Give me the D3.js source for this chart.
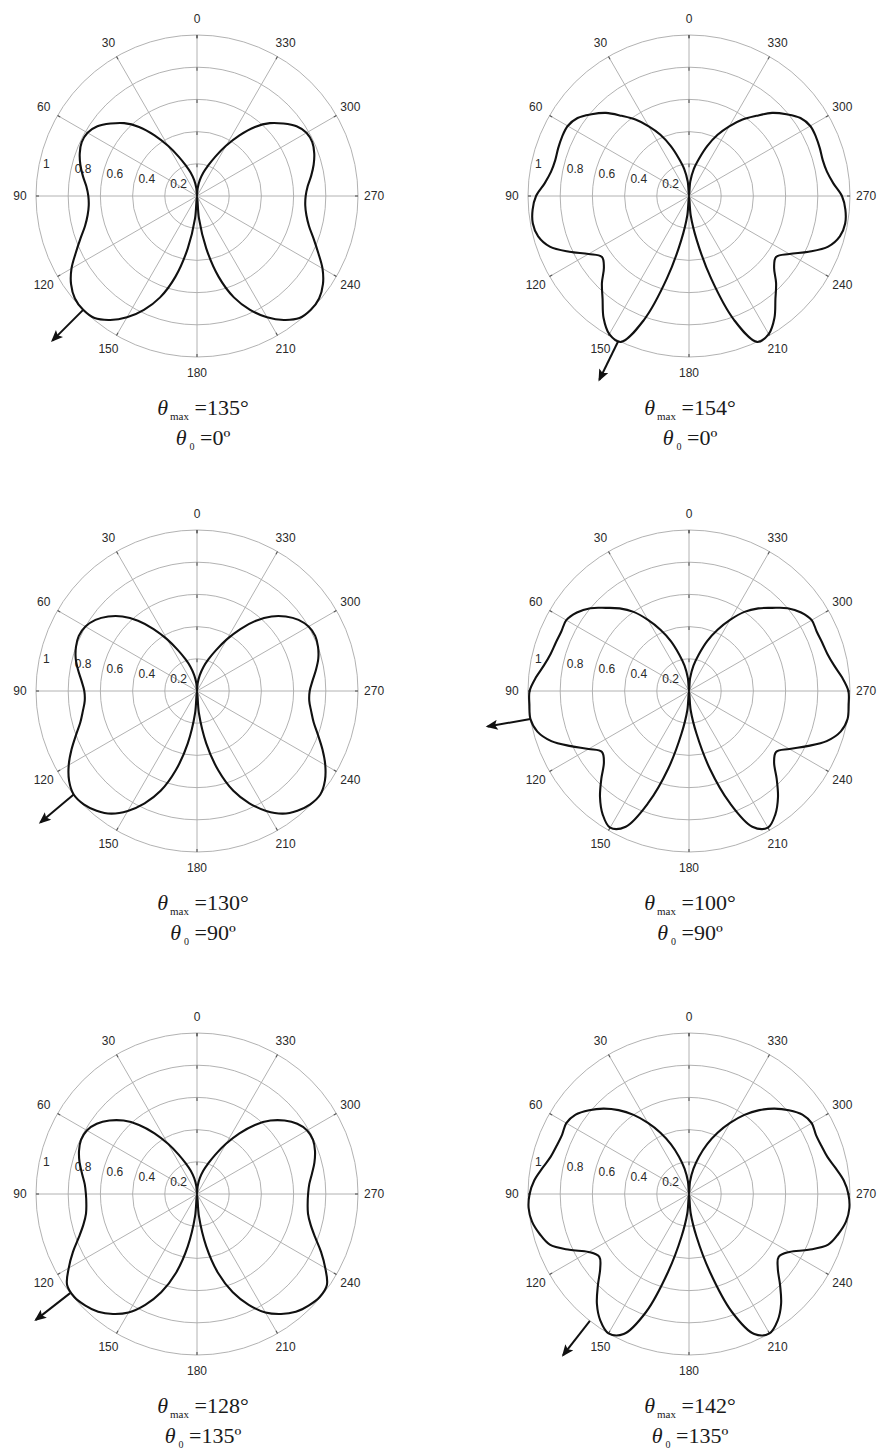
<!DOCTYPE html>
<html>
<head>
<meta charset="utf-8">
<script src="https://cdn.jsdelivr.net/npm/d3@7"></script>
<style>
  html, body { margin: 0; padding: 0; background: #fff; }
  svg { display: block; }
</style>
</head>
<body>
<svg id="chart" width="877" height="1454"></svg>
<script>
// Sample angles (degrees, counter-clockwise from the top) for one half of each pattern;
// the other half is the mirror image about the 0–180 axis.
const angles = [0, 5, 10, 15, 20, 25, 30, 35, 40, 45, 50, 55, 60, 65, 70, 75, 80, 85, 90,
                95, 100, 105, 110, 115, 120, 125, 130, 135, 140, 145, 150, 155, 160, 165, 170, 175, 180];

// Normalised radiation patterns (one value per sample angle)
const patternA = [0.00, 0.05, 0.10, 0.15, 0.20, 0.27, 0.36, 0.46, 0.56, 0.64, 0.70, 0.755, 0.785, 0.79, 0.775, 0.75, 0.72, 0.69, 0.675,
                  0.675, 0.69, 0.72, 0.77, 0.83, 0.90, 0.955, 0.99, 1.00, 0.99, 0.94, 0.87, 0.78, 0.67, 0.52, 0.33, 0.14, 0.00];
const patternB = [0.00, 0.09, 0.17, 0.24, 0.33, 0.42, 0.50, 0.58, 0.65, 0.73, 0.79, 0.845, 0.87, 0.87, 0.865, 0.86, 0.87, 0.90, 0.95,
                  0.975, 0.985, 0.97, 0.92, 0.82, 0.72, 0.66, 0.69, 0.765, 0.835, 0.925, 0.99, 1.00, 0.82, 0.53, 0.28, 0.12, 0.00];
const patternC = [0.00, 0.05, 0.10, 0.155, 0.21, 0.28, 0.37, 0.47, 0.57, 0.655, 0.72, 0.77, 0.80, 0.81, 0.80, 0.78, 0.75, 0.72, 0.70,
                  0.70, 0.72, 0.75, 0.80, 0.86, 0.92, 0.97, 1.00, 0.995, 0.97, 0.93, 0.86, 0.77, 0.66, 0.51, 0.33, 0.14, 0.00];
const patternD = [0.00, 0.08, 0.16, 0.235, 0.33, 0.42, 0.51, 0.60, 0.67, 0.73, 0.80, 0.85, 0.88, 0.875, 0.88, 0.89, 0.915, 0.955, 0.99,
                  0.995, 1.00, 0.975, 0.91, 0.81, 0.72, 0.66, 0.69, 0.77, 0.86, 0.935, 0.98, 0.93, 0.74, 0.50, 0.27, 0.12, 0.00];
const patternE = [0.00, 0.05, 0.10, 0.15, 0.20, 0.27, 0.36, 0.46, 0.56, 0.645, 0.71, 0.76, 0.79, 0.795, 0.78, 0.755, 0.725, 0.70, 0.69,
                  0.69, 0.70, 0.73, 0.78, 0.85, 0.92, 0.985, 0.995, 0.98, 0.955, 0.91, 0.85, 0.76, 0.65, 0.51, 0.33, 0.14, 0.00];
const patternF = [0.00, 0.08, 0.16, 0.24, 0.33, 0.42, 0.51, 0.60, 0.68, 0.75, 0.81, 0.86, 0.88, 0.87, 0.875, 0.89, 0.925, 0.965, 0.99,
                  1.00, 0.99, 0.96, 0.92, 0.82, 0.72, 0.68, 0.72, 0.80, 0.89, 0.96, 1.00, 0.96, 0.78, 0.50, 0.27, 0.12, 0.00];

const patterns = [patternA, patternB, patternC, patternD, patternE, patternF];
const thetaMax = [135, 154, 130, 100, 128, 142];
const theta0 = [0, 0, 90, 90, 135, 135];

const radialTicks = [0.2, 0.4, 0.6, 0.8, 1];
const radialTickLabels = ["0.2", "0.4", "0.6", "0.8", "1"];
const angleTicks = [0, 30, 60, 90, 120, 150, 180, 210, 240, 270, 300, 330];
const spokeAngles = [0, 30, 60, 90, 120, 150];

// Layout
const colX = [197, 689];
const rowY = [196, 691, 1194];
const captionX = [203, 690];
const R = 161;

const svg = d3.select("#chart");
svg.append("rect").attr("width", 877).attr("height", 1454).attr("fill", "#fff");

svg.append("defs").append("marker")
  .attr("id", "arrowhead")
  .attr("viewBox", "0 0 12 10")
  .attr("refX", 10).attr("refY", 5)
  .attr("markerWidth", 13).attr("markerHeight", 10)
  .attr("markerUnits", "userSpaceOnUse")
  .attr("orient", "auto")
  .append("path")
  .attr("d", "M0,0 L12,5 L0,10 L2.5,5 Z")
  .attr("fill", "#111");

const rScale = d3.scaleLinear().domain([0, 1]).range([0, R]);
const rad = deg => deg * Math.PI / 180;
// point for an angle measured counter-clockwise from the top
const polar = (deg, r) => [-r * Math.sin(rad(deg)), -r * Math.cos(rad(deg))];

const gridColor = "#a9a9a9";
const tickColor = "#555";
const textColor = "#2a2a2a";
const sansFont = "'Liberation Sans', Arial, sans-serif";
const serifFont = "'Liberation Serif', 'Times New Roman', serif";

patterns.forEach((values, i) => {
  const cx = colX[i % 2];
  const cy = rowY[Math.floor(i / 2)];
  const g = svg.append("g").attr("transform", `translate(${cx},${cy})`);

  // rings
  g.selectAll("circle.ring").data(radialTicks).join("circle")
    .attr("class", "ring")
    .attr("r", d => rScale(d))
    .attr("fill", "none")
    .attr("stroke", gridColor)
    .attr("stroke-width", 0.9);

  // spokes
  g.selectAll("line.spoke").data(spokeAngles).join("line")
    .attr("class", "spoke")
    .attr("x1", d => polar(d, R)[0]).attr("y1", d => polar(d, R)[1])
    .attr("x2", d => polar(d + 180, R)[0]).attr("y2", d => polar(d + 180, R)[1])
    .attr("stroke", gridColor)
    .attr("stroke-width", 0.9);

  // small ticks where the 0° spoke meets each ring
  g.selectAll("line.rtick").data(radialTicks).join("line")
    .attr("class", "rtick")
    .attr("x1", 0).attr("x2", 0)
    .attr("y1", d => -rScale(d)).attr("y2", d => -rScale(d) + 3.5)
    .attr("stroke", tickColor)
    .attr("stroke-width", 1.1);

  // small ticks at the outer ends of the spokes
  g.selectAll("line.atick").data(angleTicks).join("line")
    .attr("class", "atick")
    .attr("x1", d => polar(d, R)[0]).attr("y1", d => polar(d, R)[1])
    .attr("x2", d => polar(d, R - 3)[0]).attr("y2", d => polar(d, R - 3)[1])
    .attr("stroke", tickColor)
    .attr("stroke-width", 1.1);

  // radial tick labels
  g.selectAll("text.rlab").data(radialTicks).join("text")
    .attr("class", "rlab")
    .attr("x", d => -rScale(d) * Math.cos(rad(9)) + 5)
    .attr("y", d => -rScale(d) * Math.sin(rad(9)) - 3)
    .attr("font-family", sansFont)
    .attr("font-size", 12)
    .attr("fill", textColor)
    .text((d, k) => radialTickLabels[k]);

  // angle labels
  g.selectAll("text.alab").data(angleTicks).join("text")
    .attr("class", "alab")
    .attr("x", d => polar(d, R * 1.1)[0])
    .attr("y", d => polar(d, R * 1.1)[1])
    .attr("text-anchor", "middle")
    .attr("dominant-baseline", "central")
    .attr("font-family", sansFont)
    .attr("font-size", 12)
    .attr("fill", textColor)
    .text(d => d);

  // full pattern: measured half plus its mirror image
  const full = angles.map((a, k) => ({ a, r: values[k] }))
    .concat(angles.slice(1, -1).reverse().map(a => ({ a: 360 - a, r: values[angles.indexOf(a)] })));

  const line = d3.lineRadial()
    .angle(d => -rad(d.a))
    .radius(d => rScale(d.r))
    .curve(d3.curveCatmullRomClosed.alpha(0.5));

  g.append("path")
    .attr("d", line(full))
    .attr("fill", "none")
    .attr("stroke", "#111")
    .attr("stroke-width", 2.1)
    .attr("stroke-linejoin", "round");

  // direction of maximum radiation
  const start = polar(thetaMax[i], rScale(1.0));
  const end = polar(thetaMax[i], rScale(1.27));
  g.append("line")
    .attr("x1", start[0]).attr("y1", start[1])
    .attr("x2", end[0]).attr("y2", end[1])
    .attr("stroke", "#111")
    .attr("stroke-width", 2)
    .attr("marker-end", "url(#arrowhead)");

  // captions
  const tx = captionX[i % 2];
  const t1 = svg.append("text")
    .attr("x", tx).attr("y", cy + 219)
    .attr("text-anchor", "middle")
    .attr("font-family", serifFont)
    .attr("font-size", 22)
    .attr("fill", "#1a1a1a");
  t1.append("tspan").attr("font-style", "italic").text("θ");
  t1.append("tspan").attr("font-size", 11).attr("dx", 2).attr("dy", 5).text("max");
  t1.append("tspan").attr("dy", -5).text(" =" + thetaMax[i] + "°");

  const t2 = svg.append("text")
    .attr("x", tx).attr("y", cy + 249)
    .attr("text-anchor", "middle")
    .attr("font-family", serifFont)
    .attr("font-size", 22)
    .attr("fill", "#1a1a1a");
  t2.append("tspan").attr("font-style", "italic").text("θ");
  t2.append("tspan").attr("font-size", 10).attr("dx", 3).attr("dy", 5).text("0");
  t2.append("tspan").attr("dy", -5).text(" =" + theta0[i] + "º");
});
</script>
</body>
</html>
